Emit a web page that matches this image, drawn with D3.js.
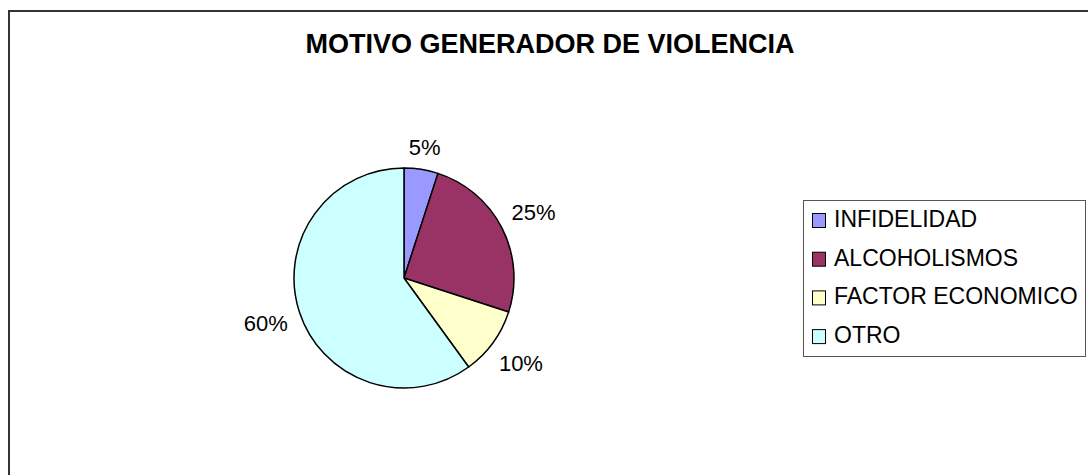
<!DOCTYPE html>
<html>
<head>
<meta charset="utf-8">
<script src="https://cdn.jsdelivr.net/npm/d3@7.9.0/dist/d3.min.js"></script>
<style>
  body { margin: 0; background: #fff; }
  svg { display: block; font-family: "Liberation Sans", Arial, sans-serif; }
</style>
</head>
<body>
<svg width="1088" height="475"></svg>
<script>
const categories = ['INFIDELIDAD', 'ALCOHOLISMOS', 'FACTOR ECONOMICO', 'OTRO'];
const values = [5, 25, 10, 60];
const colorList = ['#9999ff', '#993366', '#ffffcc', '#ccffff'];

const svg = d3.select('svg');

// outer chart frame (runs off the right/bottom edge)
svg.append('rect')
  .attr('x', 9).attr('y', 11)
  .attr('width', 1100).attr('height', 500)
  .attr('fill', '#fff')
  .attr('stroke', '#333')
  .attr('stroke-width', 2);

svg.append('text')
  .attr('x', 550).attr('y', 53)
  .attr('text-anchor', 'middle')
  .attr('font-size', 27)
  .attr('font-weight', 'bold')
  .text('MOTIVO GENERADOR DE VIOLENCIA');

const data = categories.map((c, i) => ({ label: c, value: values[i] }));
const total = d3.sum(values);

const pie = d3.pie().sort(null).value((d) => d.value);
const arcs = pie(data);
const radius = 110;
const arcGen = d3.arc().innerRadius(0).outerRadius(radius);
const color = d3.scaleOrdinal().domain(categories).range(colorList);

const g = svg.append('g').attr('transform', 'translate(404,278)');

g.selectAll('path')
  .data(arcs)
  .join('path')
  .attr('d', arcGen)
  .attr('fill', (d) => color(d.data.label))
  .attr('stroke', '#000')
  .attr('stroke-width', 1.5)
  .attr('stroke-linejoin', 'round');

// labels sit just outside the pie, pushed out by half their box size
const labels = g.selectAll('text.pct')
  .data(arcs)
  .join('text')
  .attr('class', 'pct')
  .attr('text-anchor', 'middle')
  .attr('dy', '0.35em')
  .attr('font-size', 22)
  .text((d) => d3.format('.0%')(d.data.value / total));

labels.attr('transform', function (d) {
  const a = (d.startAngle + d.endAngle) / 2;
  const w = this.getComputedTextLength();
  const h = 16;
  const r = radius + 12 + (w / 2) * Math.abs(Math.sin(a)) + (h / 2) * Math.abs(Math.cos(a));
  return `translate(${r * Math.sin(a)},${-r * Math.cos(a)})`;
});

// legend
const legend = svg.append('g').attr('transform', 'translate(803,200)');
legend.append('rect')
  .attr('x', 0.5).attr('y', 0.5)
  .attr('width', 282).attr('height', 156)
  .attr('fill', '#fff')
  .attr('stroke', '#555')
  .attr('stroke-width', 1);

const item = legend.selectAll('g.item')
  .data(categories)
  .join('g')
  .attr('class', 'item')
  .attr('transform', (d, i) => `translate(9,${27 + i * 38.7})`);

item.append('rect')
  .attr('x', 0.5).attr('y', -13.5)
  .attr('width', 13).attr('height', 14)
  .attr('fill', (d) => color(d))
  .attr('stroke', '#000')
  .attr('stroke-width', 1);

item.append('text')
  .attr('x', 22).attr('y', 0)
  .attr('font-size', 23)
  .text((d) => d);
</script>
</body>
</html>
